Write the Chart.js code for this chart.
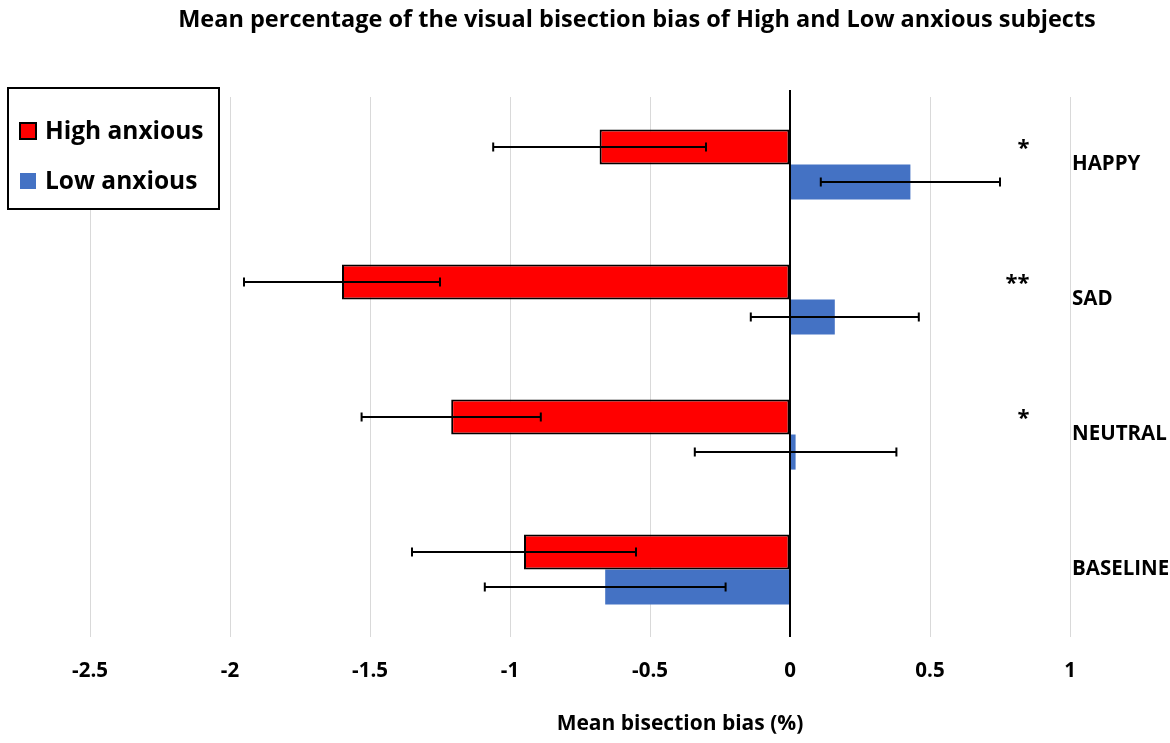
<!DOCTYPE html>
<html>
<head>
<meta charset="utf-8">
<script src="https://cdn.jsdelivr.net/npm/chart.js@4"></script>
<style>
  html, body { margin: 0; padding: 0; background: #fff; }
  #wrap { width: 1170px; height: 743px; }
</style>
</head>
<body>
<div id="wrap"><canvas id="chart"></canvas></div>
<script>
const categories = ['HAPPY', 'SAD', 'NEUTRAL', 'BASELINE'];
const highAnxious = [-0.68, -1.60, -1.21, -0.95];
const highErr = [0.38, 0.35, 0.32, 0.40];
const lowAnxious = [0.43, 0.16, 0.02, -0.66];
const lowErr = [0.32, 0.30, 0.36, 0.43];
const stars = ['*', '**', '*', ''];

const FONT = '"Open Sans", sans-serif';

const decor = {
  id: 'decor',
  afterDatasetsDraw(chart) {
    const { ctx, chartArea: { top, bottom }, scales: { x, y } } = chart;
    ctx.save();
    // zero line above the bars
    ctx.strokeStyle = '#000';
    ctx.lineWidth = 2;
    ctx.beginPath();
    ctx.moveTo(x.getPixelForValue(0), top - 7);
    ctx.lineTo(x.getPixelForValue(0), bottom);
    ctx.stroke();

    // error bars
    [highErr, lowErr].forEach((errs, i) => {
      const vals = chart.data.datasets[i].data;
      chart.getDatasetMeta(i).data.forEach((bar, j) => {
        const x1 = x.getPixelForValue(vals[j] - errs[j]);
        const x2 = x.getPixelForValue(vals[j] + errs[j]);
        const yy = bar.y;
        ctx.beginPath();
        ctx.moveTo(x1, yy); ctx.lineTo(x2, yy);
        ctx.moveTo(x1, yy - 4.5); ctx.lineTo(x1, yy + 4.5);
        ctx.moveTo(x2, yy - 4.5); ctx.lineTo(x2, yy + 4.5);
        ctx.stroke();
      });
    });

    // significance stars
    ctx.fillStyle = '#000';
    ctx.font = 'bold 22px ' + FONT;
    ctx.textAlign = 'right';
    ctx.textBaseline = 'middle';
    stars.forEach((s, j) => {
      if (!s) return;
      ctx.fillText(s, x.getPixelForValue(0.855), y.getPixelForValue(j) - 16);
    });
    ctx.restore();
  },
  afterDraw(chart) {
    const { ctx } = chart;
    ctx.save();
    ctx.fillStyle = '#000';
    ctx.textBaseline = 'middle';
    ctx.textAlign = 'center';
    ctx.font = 'bold 23.5px ' + FONT;
    ctx.fillText('Mean percentage of the visual bisection bias of High and Low anxious subjects', 637, 20);
    ctx.font = 'bold 21px ' + FONT;
    ctx.fillText('Mean bisection bias (%)', 680, 724);

    // legend box
    ctx.fillStyle = '#fff';
    ctx.fillRect(8, 88, 211, 121);
    ctx.strokeStyle = '#000';
    ctx.lineWidth = 2;
    ctx.strokeRect(8, 88, 211, 121);
    const items = [
      { label: chart.data.datasets[0].label, color: '#FF0000', border: true, y: 131 },
      { label: chart.data.datasets[1].label, color: '#4472C4', border: false, y: 181 }
    ];
    ctx.textAlign = 'left';
    ctx.font = 'bold 24.5px ' + FONT;
    items.forEach(it => {
      ctx.fillStyle = it.color;
      ctx.fillRect(20, it.y - 8, 16, 16);
      if (it.border) {
        ctx.lineWidth = 2;
        ctx.strokeRect(20, it.y - 8, 16, 16);
      }
      ctx.fillStyle = '#000';
      ctx.fillText(it.label, 45, it.y + 1);
    });
    ctx.restore();
  }
};

const config = {
  type: 'bar',
  data: {
    labels: categories,
    datasets: [
      {
        label: 'High anxious',
        data: highAnxious,
        backgroundColor: '#FF0000',
        borderColor: '#000',
        borderWidth: 2,
        borderSkipped: false
      },
      {
        label: 'Low anxious',
        data: lowAnxious,
        backgroundColor: '#4472C4',
        borderWidth: 0
      }
    ]
  },
  options: {
    indexAxis: 'y',
    responsive: true,
    maintainAspectRatio: false,
    animation: false,
    devicePixelRatio: 1,
    layout: { padding: { left: 90, right: 0, top: 97, bottom: 0 } },
    datasets: { bar: { categoryPercentage: 0.52, barPercentage: 1 } },
    plugins: {
      legend: { display: false },
      title: { display: false },
      tooltip: { enabled: false }
    },
    scales: {
      x: {
        type: 'linear',
        min: -2.5,
        max: 1,
        ticks: {
          stepSize: 0.5,
          padding: 22,
          color: '#000',
          font: { family: FONT, size: 20.5, weight: 'bold' },
          callback: v => String(v)
        },
        grid: {
          drawTicks: false,
          color: ctx => ctx.tick && ctx.tick.value === 0 ? '#000' : '#d9d9d9',
          lineWidth: 1
        },
        border: { display: false },
        afterFit(axis) { axis.height = 106; }
      },
      y: {
        position: 'right',
        ticks: {
          padding: 2,
          color: '#000',
          font: { family: FONT, size: 20.5, weight: 'bold' }
        },
        grid: { display: false, drawTicks: false },
        border: { display: false },
        afterFit(axis) { axis.width = 100; }
      }
    }
  },
  plugins: [decor]
};

new Chart(document.getElementById('chart'), config);
</script>
</body>
</html>
